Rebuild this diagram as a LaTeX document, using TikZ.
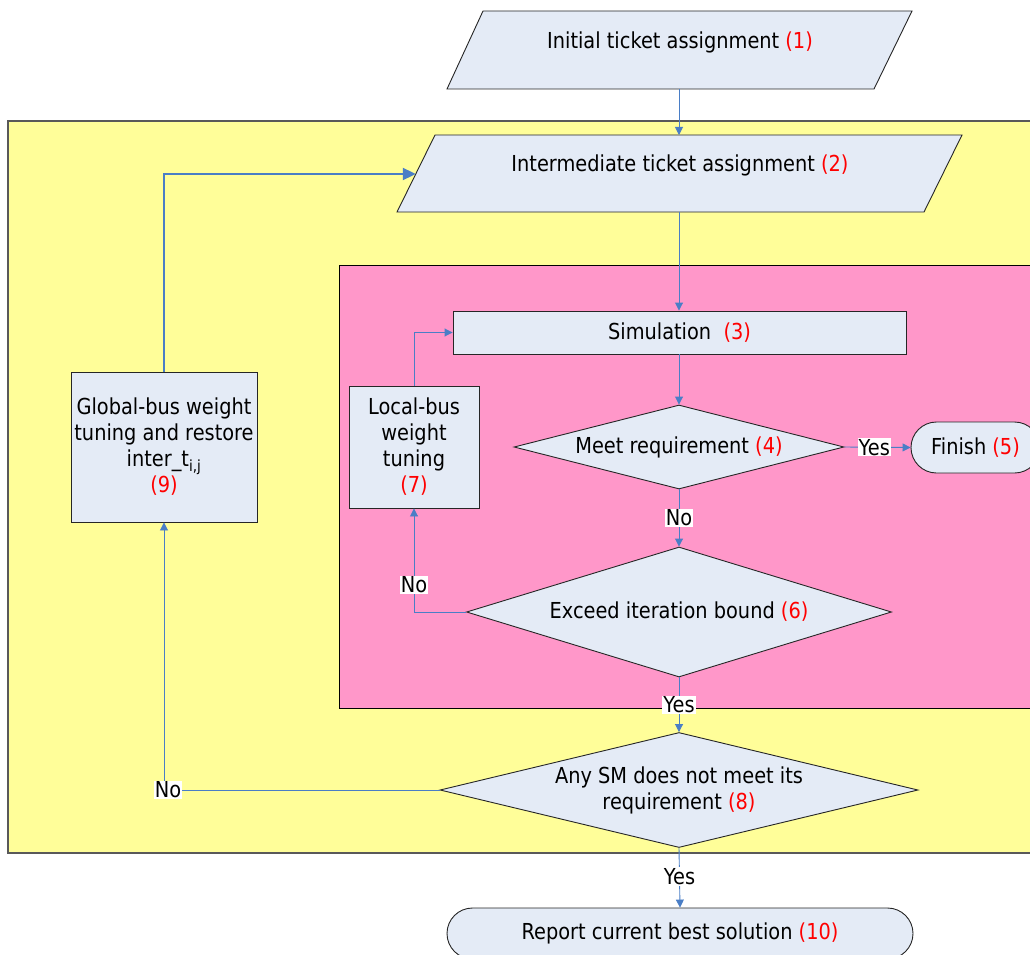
\documentclass[tikz,border=0pt]{standalone}
\usepackage{fontspec}
\setmainfont{DejaVu Sans}[FakeStretch=0.88]
\usetikzlibrary{shapes.geometric,arrows.meta}
\definecolor{boxfill}{HTML}{E4EBF6}
\definecolor{outerzone}{HTML}{FFFE99}
\definecolor{innerzone}{HTML}{FF97C9}
\definecolor{flow}{HTML}{4A7EC6}
\newcommand\stepno[1]{\textcolor{red}{(#1)}}
\tikzset{
  proc/.style={rectangle, draw=black!85, fill=boxfill, line width=0.9pt, inner sep=0pt, align=center},
  term/.style={proc, rounded corners=25.5pt},
  decision/.style={diamond, draw=black!85, fill=boxfill, line width=0.9pt, inner sep=0pt, align=center},
  flowline/.style={draw=flow, line width=0.9pt, -{Triangle[length=8pt,width=8pt]}},
  mainloop/.style={draw=flow, line width=2pt, -{Triangle[length=13pt,width=12pt]}},
  tag/.style={fill=white, inner sep=1pt, text=black},
  zone/.style={line width=1.2pt}
}
\begin{document}
\begin{tikzpicture}[x=1pt, y=-1pt, font=\fontsize{22}{26}\selectfont]
\useasboundingbox (0,0) rectangle (1030,955);
\clip (0,0) rectangle (1030,955);

% outer (global) and inner (local) iteration zones
\filldraw[zone, fill=outerzone, draw=black!65] (8,121) rectangle (1045,853);
\filldraw[line width=1pt, fill=innerzone, draw=black] (339,265) rectangle (1045,708);

% input parallelograms
\filldraw[fill=boxfill, draw=black!85, line width=0.9pt]
  (483,11) -- (912,11) -- (874,89) -- (447,89) -- cycle;
\node (init) at (680,42) {Initial ticket assignment \stepno{1}};
\coordinate (initout) at (679,89);

\filldraw[fill=boxfill, draw=black!85, line width=0.9pt]
  (435,135) -- (962,135) -- (924,212) -- (397,212) -- cycle;
\node (inter) at (680,165) {Intermediate ticket assignment \stepno{2}};
\coordinate (interin) at (679,135);
\coordinate (interout) at (679,212);
\coordinate (interside) at (415.8,174);

% process steps
\node[proc, minimum width=453pt, minimum height=43pt] (sim) at (679.5,332.5) {Simulation~ \stepno{3}};
\node[decision, aspect=3.93, minimum width=330pt, minimum height=84pt] (meet) at (679,447) {Meet requirement \stepno{4}};
\node[term, minimum width=129pt, minimum height=51pt] (finish) at (975.5,447.5) {Finish \stepno{5}};
\node[decision, aspect=3.27, minimum width=425pt, minimum height=130pt] (bound) at (679,612) {Exceed iteration bound \stepno{6}};
\node[proc, minimum width=130pt, minimum height=122pt] (local) at (414,447) {Local-bus\\weight\\tuning\\\stepno{7}};
\node[decision, aspect=4.16, minimum width=478pt, minimum height=115pt] (anysm) at (679,790) {Any SM does not meet its\\requirement \stepno{8}};
\node[proc, minimum width=186pt, minimum height=150pt] (global) at (164,447) {Global-bus weight\\tuning and restore\\inter\_t\textsubscript{i,j}\\\stepno{9}};
\node[term, minimum width=466pt, minimum height=51pt] (report) at (680,933.5) {Report current best solution \stepno{10}};

% connectors
\draw[flowline] (initout) -- (interin);
\draw[flowline] (interout) -- (sim.north -| interout);
\draw[flowline] (sim.south -| meet.north) -- (meet.north);
\draw[flowline] (meet.east) -- node[tag, pos=0.45] {Yes} (finish.west);
\draw[flowline] (meet.south) -- node[tag] {No} (bound.north);
\draw[flowline] (bound.west) -| node[tag, pos=0.63] {No} (local.south);
\draw[flowline] (local.north) |- (sim.west);
\draw[flowline] (bound.south) -- node[tag] {Yes} (anysm.north);
\draw[flowline] (anysm.west) -| node[tag, pos=0.5, xshift=4pt] {No} (global.south);
\draw[mainloop] (global.north) |- (interside);
\draw[flowline] (anysm.south) -- node[tag, pos=0.48] {Yes} (report.north);
\end{tikzpicture}
\end{document}
